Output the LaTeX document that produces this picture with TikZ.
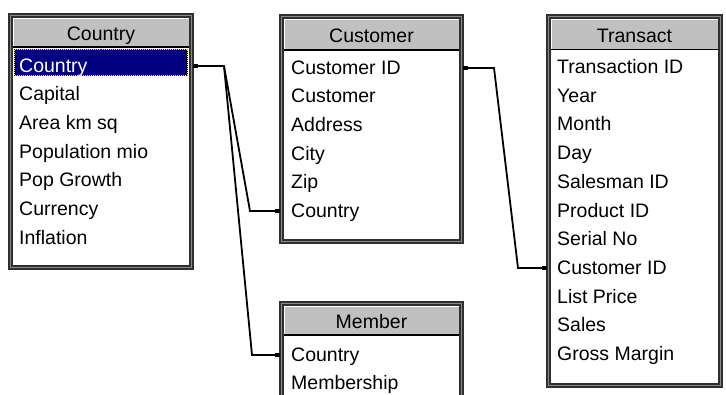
\documentclass[tikz,border=0pt]{standalone}
\usepackage{fontspec}
\setmainfont{Liberation Sans}
\definecolor{hdr}{HTML}{C0C0C0}
\definecolor{selnavy}{HTML}{000080}
\definecolor{framedark}{HTML}{303030}
\definecolor{framemid}{HTML}{8A8A8A}
\tikzset{
  rowtext/.style={inner sep=0pt, anchor=base west, font=\fontsize{19.5}{20}\selectfont},
  titletext/.style={inner sep=0pt, anchor=base, font=\fontsize{19.5}{20}\selectfont},
  framedk/.style={draw=framedark, line width=5pt},
  framemd/.style={draw=framemid, line width=1.3pt},
  link/.style={draw=black, line width=1.8pt, line join=miter},
  endsq/.style={fill=black},
}
% #1 name, #2 x1, #3 y1, #4 x2, #5 y2, #6 header bottom, #7 title baseline, #8 title
\newcommand{\dbtable}[8]{%
  \fill[white] (#2+5,#3+5) rectangle (#4-5,#5-5);
  \fill[hdr] (#2+5,#3+5) rectangle (#4-5,#6);
  \draw[white,line width=1.2pt] (#2+5.6,#6-1) -- (#2+5.6,#3+5.6) -- (#4-5,#3+5.6);
  \draw[black,line width=1.5pt] (#2+5,#6) -- (#4-5,#6);
  \draw[framedk] (#2+2.5,#3+2.5) rectangle (#4-2.5,#5-2.5);
  \draw[framemd] (#2+2.5,#3+2.5) rectangle (#4-2.5,#5-2.5);
  \node[titletext] (#1) at ({(#2+#4)/2},#7) {#8};
}
\newcommand{\sqat}[1]{\fill[endsq] ([xshift=-2.4pt,yshift=-2.4pt]#1) rectangle ([xshift=2.4pt,yshift=2.4pt]#1);}
\begin{document}
\begin{tikzpicture}[x=1pt,y=-1pt]
\useasboundingbox (0,0) rectangle (726,394);
\clip (0,0) rectangle (726,394);
\fill[white] (0,0) rectangle (726,394);

% Country table
\dbtable{t-country}{8}{13}{194}{270}{47}{40}{Country}
\fill[selnavy] (14,49) rectangle (188,76);
\draw[black,line width=1pt] (14.5,49.5) rectangle (187.5,75.5);
\draw[yellow,line width=1pt,dash pattern=on 1pt off 1pt] (14.5,49.5) rectangle (187.5,75.5);
\node[rowtext,text=white] (c1) at (19,72) {Country};
\node[rowtext] (c2) at (19,100.7) {Capital};
\node[rowtext] (c3) at (19,129.4) {Area km sq};
\node[rowtext] (c4) at (19,158.1) {Population mio};
\node[rowtext] (c5) at (19,186.8) {Pop Growth};
\node[rowtext] (c6) at (19,215.5) {Currency};
\node[rowtext] (c7) at (19,244.2) {Inflation};

% Customer table
\dbtable{t-customer}{279}{14}{464}{244}{50}{42}{Customer}
\node[rowtext] (u1) at (291,74) {Customer ID};
\node[rowtext] (u2) at (291,102.7) {Customer};
\node[rowtext] (u3) at (291,131.4) {Address};
\node[rowtext] (u4) at (291,160.1) {City};
\node[rowtext] (u5) at (291,188.8) {Zip};
\node[rowtext] (u6) at (291,217.5) {Country};

% Transact table
\dbtable{t-transact}{546}{14}{723}{388}{49.5}{42}{Transact}
\node[rowtext] (x1) at (557,73.5) {Transaction ID};
\node[rowtext] (x2) at (557,102.2) {Year};
\node[rowtext] (x3) at (557,130.9) {Month};
\node[rowtext] (x4) at (557,159.6) {Day};
\node[rowtext] (x5) at (557,188.3) {Salesman ID};
\node[rowtext] (x6) at (557,217) {Product ID};
\node[rowtext] (x7) at (557,245.7) {Serial No};
\node[rowtext] (x8) at (557,274.4) {Customer ID};
\node[rowtext] (x9) at (557,303.1) {List Price};
\node[rowtext] (x10) at (557,331.8) {Sales};
\node[rowtext] (x11) at (557,360.5) {Gross Margin};

% Member table
\dbtable{t-member}{279}{301}{464}{420}{335}{328}{Member}
\node[rowtext] (m1) at (291,361) {Country};
\node[rowtext] (m2) at (291,389) {Membership};

% connector points
\coordinate (p-cty) at (195.5,66);
\coordinate (p-bend) at (224,66);
\coordinate (p-custcty) at (277.5,211);
\coordinate (p-memcty) at (277.5,355);
\coordinate (p-custid) at (465.5,68);
\coordinate (p-transcid) at (544.5,268);

\draw[link] (p-cty) -- (p-bend) -- (250,211) -- (p-custcty);
\draw[link] (p-bend) -- (252,355) -- (p-memcty);
\draw[link] (p-custid) -- (494,68) -- (518,268) -- (p-transcid);

\sqat{p-cty}
\sqat{p-custcty}
\sqat{p-memcty}
\sqat{p-custid}
\sqat{p-transcid}
\end{tikzpicture}
\end{document}
